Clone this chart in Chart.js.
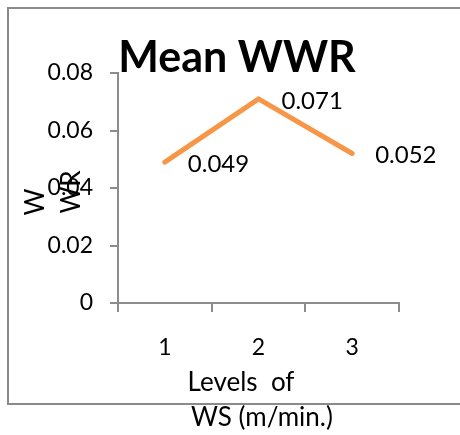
<!DOCTYPE html>
<html>
<head>
<meta charset="utf-8">
<script src="https://cdn.jsdelivr.net/npm/chart.js@4"></script>
<style>
  html, body { margin: 0; padding: 0; background: #fff; overflow: hidden; }
  canvas { display: block; }
</style>
</head>
<body>
<canvas id="myChart" width="460" height="435"></canvas>
<script>
/* Mean WWR line chart */
let levels = ['1', '2', '3'];
let meanWwr = [0.049, 0.071, 0.052];
let yTicks = [0, 0.02, 0.04, 0.06, 0.08];

let font = 'Lato, "Open Sans", sans-serif';
let axisGray = '#8c8c8c';

// frame, title, axis titles and the value labels
let decorations = {
    id: 'decorations',
    beforeDraw: function (chart) {
        let ctx = chart.ctx;
        ctx.save();
        ctx.strokeStyle = '#8a8a8a';
        ctx.lineWidth = 2;
        ctx.beginPath();
        ctx.moveTo(470, 8);
        ctx.lineTo(8, 8);
        ctx.lineTo(8, 404);
        ctx.lineTo(470, 404);
        ctx.stroke();
        ctx.restore();
    },
    afterDraw: function (chart) {
        let ctx = chart.ctx;
        ctx.save();
        ctx.fillStyle = '#000';

        // title
        ctx.font = 'bold 43px ' + font;
        ctx.textAlign = 'center';
        ctx.textBaseline = 'alphabetic';
        ctx.fillText('Mean WWR', 237, 72);

        // x axis title, two lines
        ctx.font = '26px ' + font;
        ctx.textBaseline = 'middle';
        ctx.fillText('Levels  of', 241, 383);
        ctx.fillText('WS (m/min.)', 262, 418);

        // y axis title, wrapped and rotated
        ctx.save();
        ctx.translate(36, 202);
        ctx.rotate(-Math.PI / 2);
        ctx.fillText('W', 0, 0);
        ctx.restore();
        ctx.save();
        ctx.translate(72, 192);
        ctx.rotate(-Math.PI / 2);
        ctx.fillText('WR', 0, 0);
        ctx.restore();

        // value labels to the right of each point
        let meta = chart.getDatasetMeta(0);
        ctx.font = '24px ' + font;
        ctx.textAlign = 'left';
        meta.data.forEach(function (pt, i) {
            ctx.fillText(meanWwr[i].toFixed(3), pt.x + 23, pt.y + 2);
        });
        ctx.restore();
    }
};

let ctx = document.getElementById('myChart').getContext('2d');

let myChart = new Chart(ctx, {
    type: 'line',
    data: {
        labels: levels,
        datasets: [{
            label: 'Mean WWR',
            data: meanWwr,
            borderColor: '#F79646',
            borderWidth: 5,
            borderCapStyle: 'round',
            borderJoinStyle: 'miter',
            pointRadius: 0,
            tension: 0,
            fill: false
        }]
    },
    options: {
        responsive: false,
        animation: false,
        layout: {
            padding: { left: 0, top: 73, right: 61, bottom: 0 }
        },
        plugins: {
            legend: { display: false },
            tooltip: { enabled: false }
        },
        scales: {
            x: {
                offset: true,
                grid: {
                    offset: true,
                    drawOnChartArea: false,
                    tickLength: 9,
                    color: axisGray,
                    lineWidth: 2
                },
                border: { color: axisGray, width: 2 },
                ticks: {
                    color: '#000',
                    padding: 22,
                    font: { family: font, size: 23 },
                    maxRotation: 0
                },
                afterFit: function (scale) {
                    scale.height = 132;
                }
            },
            y: {
                min: 0,
                max: 0.08,
                afterBuildTicks: function (scale) {
                    scale.ticks = yTicks.map(function (v) { return { value: v }; });
                },
                grid: {
                    drawOnChartArea: false,
                    tickLength: 8,
                    color: axisGray,
                    lineWidth: 2
                },
                border: { color: axisGray, width: 2 },
                ticks: {
                    color: '#000',
                    padding: 17,
                    font: { family: font, size: 23 },
                    callback: function (v) { return v === 0 ? '0' : v.toFixed(2); }
                },
                afterFit: function (scale) {
                    scale.width = 118;
                }
            }
        }
    },
    plugins: [decorations]
});
</script>
</body>
</html>
